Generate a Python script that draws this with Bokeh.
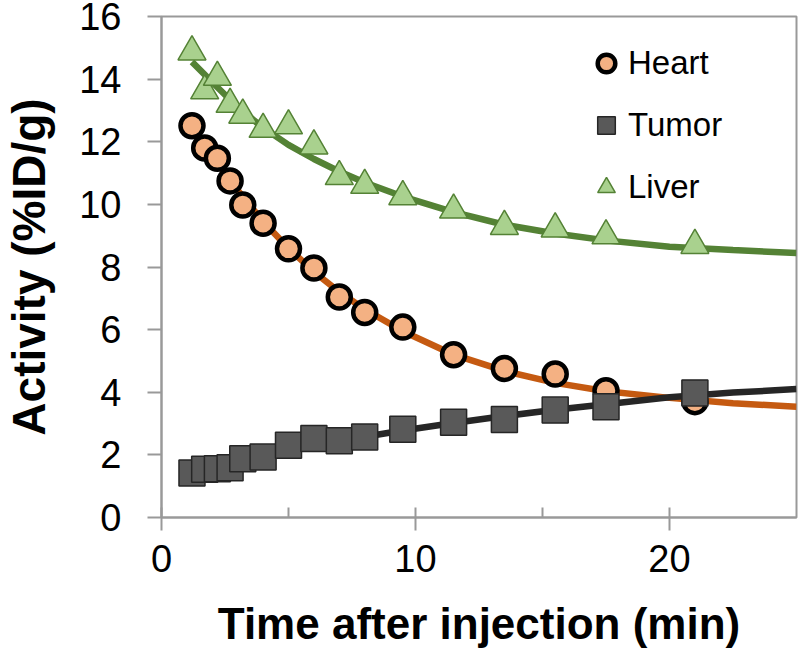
from bokeh.plotting import figure
from bokeh.models import Range1d, FixedTicker, Legend, LegendItem
from bokeh.embed import file_html
from bokeh.resources import INLINE

# ---- data ----
t_points = [1.2, 1.7, 2.2, 2.7, 3.2, 4.0, 5.0, 6.0, 7.0, 8.0, 9.5, 11.5, 13.5, 15.5, 17.5, 21.0]
heart = [12.51, 11.8, 11.47, 10.75, 9.98, 9.4, 8.58, 7.97, 7.04, 6.55, 6.08, 5.2, 4.76, 4.58, 4.05, 3.7]
tumor = [1.42, 1.54, 1.56, 1.59, 1.88, 1.93, 2.31, 2.52, 2.45, 2.57, 2.82, 3.04, 3.13, 3.43, 3.54, 3.98]
liver = [14.87, 13.63, 14.06, 13.2, 12.85, 12.4, 12.51, 11.87, 10.89, 10.61, 10.25, 9.82, 9.3, 9.22, 9.0, 8.69]

t_fit = [1.2, 2, 3, 4, 5, 6, 7, 8, 9.5, 11.5, 13.5, 15.5, 17.5, 20, 22.5, 25]
heart_fit = [12.5, 11.55, 10.45, 9.45, 8.6, 7.85, 7.2, 6.65, 5.95, 5.2, 4.68, 4.3, 4.03, 3.82, 3.65, 3.54]
tumor_fit = [1.42, 1.58, 1.78, 1.96, 2.13, 2.29, 2.44, 2.58, 2.78, 3.02, 3.24, 3.44, 3.62, 3.84, 3.99, 4.1]
liver_fit = [14.55, 13.9, 13.1, 12.45, 11.9, 11.45, 11.05, 10.7, 10.25, 9.75, 9.35, 9.07, 8.85, 8.65, 8.54, 8.45]

x_ticks = [0, 10, 20]
x_minor = [5, 15]
y_ticks = [0, 2, 4, 6, 8, 10, 12, 14, 16]
series_names = ["Heart", "Tumor", "Liver"]

AX = "#999999"
FONT = "Liberation Sans"

p = figure(width=800, height=655, output_backend="svg", toolbar_location=None,
           x_range=Range1d(0, 25), y_range=Range1d(0, 16),
           min_border_left=161, min_border_top=16, min_border_right=4, min_border_bottom=138)
p.xgrid.visible = False
p.ygrid.visible = False
p.outline_line_color = AX
p.outline_line_width = 2
p.background_fill_color = "white"
p.border_fill_color = "white"

# fitted curves and markers
p.line(t_fit, heart_fit, line_color="#C55A11", line_width=6.5)
r_heart = p.scatter(t_points, heart, marker="circle", size=23, fill_color="#F4B183",
                    line_color="black", line_width=4.5)
p.line(t_fit, tumor_fit, line_color="#262626", line_width=6.5)
r_tumor = p.scatter(t_points, tumor, marker="square", size=26, fill_color="#595959",
                    line_color="#262626", line_width=1.5)
p.line(t_fit, liver_fit, line_color="#548235", line_width=6.5)
r_liver = p.scatter(t_points, liver, marker="triangle", size=28, fill_color="#A9D18E",
                    line_color="#548235", line_width=1.5)

# axes
xa = p.xaxis[0]
xa.ticker = FixedTicker(ticks=x_ticks, minor_ticks=x_minor)
xa.axis_label = "Time after injection (min)"
ya = p.yaxis[0]
ya.ticker = FixedTicker(ticks=y_ticks, minor_ticks=[])
ya.axis_label = "Activity (%ID/g)"

for ax in (xa, ya):
    ax.axis_line_color = AX
    ax.axis_line_width = 2
    ax.major_tick_line_color = AX
    ax.major_tick_line_width = 2
    ax.minor_tick_line_color = AX
    ax.minor_tick_line_width = 2
    ax.major_label_text_font = FONT
    ax.major_label_text_font_size = "38px"
    ax.major_label_text_color = "black"
    ax.axis_label_text_font = FONT
    ax.axis_label_text_font_style = "bold"
    ax.axis_label_text_color = "black"

xa.axis_label_text_font_size = "44px"
ya.axis_label_text_font_size = "46px"

xa.major_tick_in = 10
xa.major_tick_out = 13
xa.minor_tick_in = 10
xa.minor_tick_out = 0
xa.major_label_standoff = 14
xa.axis_label_standoff = 24

ya.major_tick_in = 0
ya.major_tick_out = 14
ya.minor_tick_in = 0
ya.minor_tick_out = 0
ya.major_label_standoff = 26
ya.axis_label_standoff = 21

legend = Legend(items=[LegendItem(label=series_names[0], renderers=[r_heart]),
                       LegendItem(label=series_names[1], renderers=[r_tumor]),
                       LegendItem(label=series_names[2], renderers=[r_liver])],
                location=(423, 305))
legend.glyph_width = 44
legend.glyph_height = 50
legend.spacing = 12
legend.padding = 0
legend.margin = 0
legend.label_standoff = 0
legend.label_text_font = FONT
legend.label_text_font_size = "33px"
legend.label_text_color = "black"
legend.background_fill_alpha = 0
legend.border_line_color = None
p.add_layout(legend)

open("out.html", "w").write(file_html(p, INLINE))
